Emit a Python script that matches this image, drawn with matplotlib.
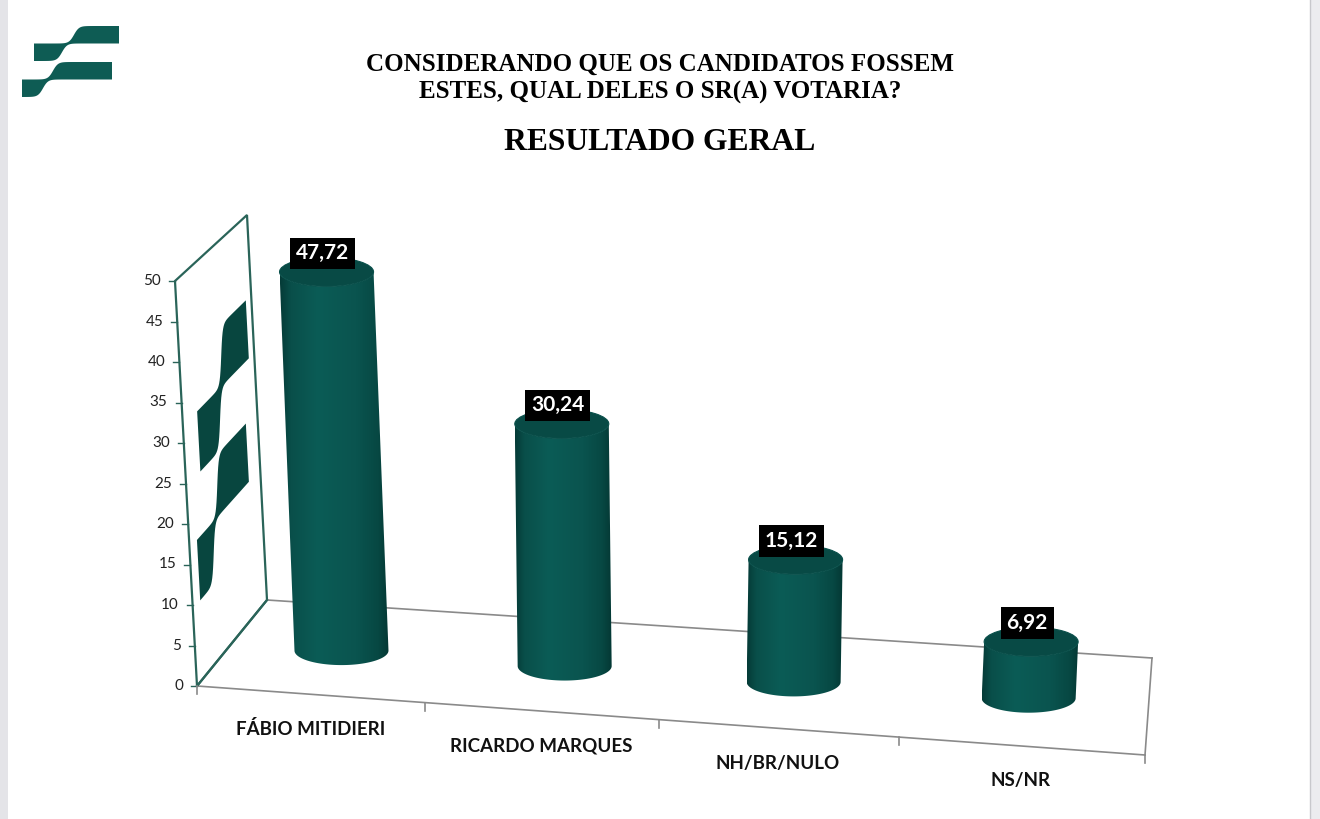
import numpy as np
import matplotlib
matplotlib.use('Agg')
import matplotlib.pyplot as plt
from matplotlib.patches import Polygon, Ellipse, Rectangle
from matplotlib.colors import LinearSegmentedColormap

# data
categories = ['FÁBIO MITIDIERI', 'RICARDO MARQUES', 'NH/BR/NULO', 'NS/NR']
values = [47.72, 30.24, 15.12, 6.92]
y_ticks = [0, 5, 10, 15, 20, 25, 30, 35, 40, 45, 50]
y_max = 50
title_lines = ['CONSIDERANDO QUE OS CANDIDATOS FOSSEM', 'ESTES, QUAL DELES O SR(A) VOTARIA?']
subtitle = 'RESULTADO GERAL'

# perspective box of the 3D plot (pixel corners of the floor), px per unit, lean
FL = np.array([197.0, 686.0])
FR = np.array([1145.0, 755.0])
BL = np.array([267.0, 600.0])
BR = np.array([1152.0, 658.0])
SCALES = (8.1, 8.4, 7.7, 8.0)      # front-left, front-right, back-left, back-right
LEANS = (-0.44, 0.50, -0.40, 0.45)
PERSP = 1.053

WALL_LINE = '#2a6459'
FLOOR_LINE = '#8a8a8a'
SANS = ['Lato', 'DejaVu Sans']
SERIF = ['Liberation Serif', 'DejaVu Serif']


def bil(q, u, w):
    fl, fr, bl, br = q
    return (1 - u) * (1 - w) * fl + u * (1 - w) * fr + (1 - u) * w * bl + u * w * br


def proj(u, w, v):
    uu = u / (PERSP - (PERSP - 1) * u)
    base = bil((FL, FR, BL, BR), uu, w)
    s = bil(SCALES, uu, w)
    lean = bil(LEANS, uu, w)
    return base[0] + lean * v, base[1] - s * v


def step(z):
    return 0.5 * (1 + np.tanh(z))


def band(x0, x1, base, thick, rise, c_low, c_high, k, n=80):
    xs = np.linspace(x0, x1, n)
    low = base + rise * step((xs - c_low) / k)
    high = base + thick + rise * step((xs - c_high) / k)
    return np.concatenate([xs, xs[::-1]]), np.concatenate([low, high[::-1]])


fig = plt.figure(figsize=(13.2, 8.19), dpi=100)
ax = fig.add_axes([0, 0, 1, 1])
ax.axis('off')

# page edges of the screenshot
ax.add_patch(Rectangle((0, 0), 8, 819, color='#e4e4e8', lw=0))
ax.add_patch(Rectangle((1310, 0), 10, 819, color='#ececef', lw=0))
ax.plot([1310, 1310], [0, 819], color='#c8c8cc', lw=1)

# logo top-left
for x0, x1, base, c_low, c_high in [(34, 119, 61, 62, 74), (22, 112, 97, 43, 53)]:
    xs, ys = band(x0, x1, base, -17.5, -17.5, c_low, c_high, 5)
    ax.add_patch(Polygon(np.column_stack([xs, ys]), closed=True, fc='#0e5c54', ec='none'))

# titles
ax.text(660, 64, title_lines[0], ha='center', va='center', fontsize=18,
        fontweight='bold', family=SERIF)
ax.text(660, 92, title_lines[1], ha='center', va='center', fontsize=18,
        fontweight='bold', family=SERIF)
ax.text(660, 143, subtitle, ha='center', va='center', fontsize=22.8,
        fontweight='bold', family=SERIF)

# left wall
wall = [proj(0, 0, 0), proj(0, 0, y_max), proj(0, 1, y_max), proj(0, 1, 0)]
ax.add_patch(Polygon(wall, closed=True, fc='white', ec=WALL_LINE, lw=1.6, zorder=1))

# logo drawn on the wall (w along depth, v along values)
for w0, w1, base, c_low, c_high in [(0.2, 0.925, 24.6, 0.50, 0.56),
                                    (0.105, 0.84, 9.5, 0.32, 0.415)]:
    ws, vs = band(w0, w1, base, 7.5, 7.5, c_low, c_high, 0.04)
    pts = [proj(0, w, v) for w, v in zip(ws, vs)]
    ax.add_patch(Polygon(pts, closed=True, fc='#08463f', ec='none', zorder=1.5))

# y ticks and labels
for t in y_ticks:
    x, y = proj(0, 0, t)
    ax.plot([x - 6, x], [y, y], color=WALL_LINE, lw=1, zorder=2)
    ax.text(x - 14, y, str(t), ha='right', va='center', fontsize=11,
            family=SANS, color='#222222')

# floor
for a, b in [((0, 1), (1, 1)), ((1, 1), (1, 0)), ((0, 0), (1, 0))]:
    p0 = proj(a[0], a[1], 0)
    p1 = proj(b[0], b[1], 0)
    ax.plot([p0[0], p1[0]], [p0[1], p1[1]], color=FLOOR_LINE, lw=1.2, zorder=2)
p0 = proj(0, 0, 0)
p1 = proj(0, 1, 0)
ax.plot([p0[0], p1[0]], [p0[1], p1[1]], color=WALL_LINE, lw=1.6, zorder=2)

n = len(categories)
for i in range(n + 1):
    x, y = proj(i / n, 0, 0)
    ax.plot([x, x], [y, y + 8], color=FLOOR_LINE, lw=1.2, zorder=2)

# cylinders: body clipped gradient + cap ellipse
cmap = LinearSegmentedColormap.from_list('cyl', [
    (0.0, '#053b37'), (0.1, '#094f4a'), (0.35, '#0b5c56'),
    (0.7, '#0a544f'), (0.9, '#074843'), (1.0, '#043834')])
grad = np.linspace(0, 1, 256).reshape(1, -1)
a_px, b_px = 47, 14.5
thetas = np.linspace(np.pi, 2 * np.pi, 91)
for i, (cat, val) in enumerate(zip(categories, values)):
    uc = (i + 0.5) / n
    bx, by = proj(uc, 0.5, 0)
    tx, ty = proj(uc, 0.5, val)
    bottom = np.column_stack([bx + a_px * np.cos(thetas), by - b_px * np.sin(thetas)])
    top = np.column_stack([tx + a_px * np.cos(thetas), ty - b_px * np.sin(thetas)])
    body = Polygon(np.vstack([bottom, top[::-1]]), closed=True, fc='none', ec='none')
    ax.add_patch(body)
    x0 = min(bx, tx) - a_px
    x1 = max(bx, tx) + a_px
    im = ax.imshow(grad, cmap=cmap, extent=(x0, x1, by + b_px + 1, ty - 1),
                   aspect='auto', interpolation='bilinear', zorder=3)
    im.set_clip_path(body)
    ax.add_patch(Ellipse((tx, ty), 2 * a_px, 2 * b_px, fc='#084a45', ec='#0a504b',
                         lw=0.8, zorder=4))
    # value label
    ax.text(tx - 4, ty - b_px - 4, f'{val:.2f}'.replace('.', ','), ha='center',
            va='center', fontsize=15, fontweight='bold', color='white', family=SANS,
            zorder=6, bbox=dict(boxstyle='square,pad=0.28', fc='black', ec='none'))
    # category label
    lx, ly = proj(i / n + 0.5 / n, 0, 0)
    ax.text(lx, ly + 35, cat, ha='center', va='center', fontsize=13.5,
            fontweight='bold', family=SANS, color='#111111')

ax.set_xlim(0, 1320)
ax.set_ylim(819, 0)
fig.savefig('out.png', dpi=100)
